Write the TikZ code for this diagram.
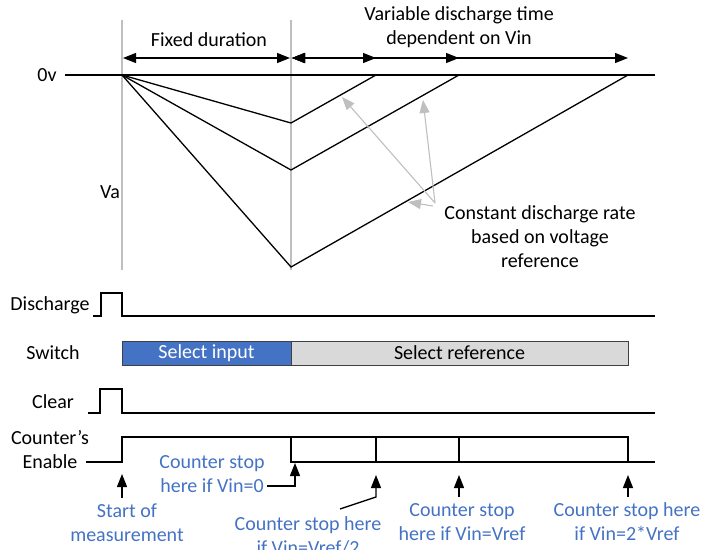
\documentclass[tikz,border=0pt]{standalone}
\usepackage{fontspec}
\setmainfont{Carlito}
\usetikzlibrary{arrows.meta}

\definecolor{offblue}{HTML}{4472C4}
\definecolor{lightgrey}{HTML}{D9D9D9}
\definecolor{guidegrey}{HTML}{BFBFBF}

\tikzset{
  sig/.style={line width=1.3pt,black},
  guide/.style={line width=1.1pt,guidegrey},
  span/.style={line width=1.3pt,{Triangle[length=13pt,width=10pt]}-{Triangle[length=13pt,width=10pt]}},
  uparrow/.style={line width=1.3pt,-{Triangle[length=13pt,width=10pt]}},
  hint/.style={guide,-{Triangle[length=13pt,width=10pt]}},
  txt/.style={font=\fontsize{20}{24}\selectfont,align=center,inner sep=0pt},
  note/.style={txt,text=offblue},
  phase/.style={txt,draw=black!75,line width=0.8pt,minimum height=24pt}
}

\begin{document}
\begin{tikzpicture}[x=1pt,y=-1pt]
\useasboundingbox (0,0) rectangle (704,549);
\clip (0,0) rectangle (704,549);

% voltage plot
\draw[guide] (122,20) -- (122,270);
\draw[guide] (291,20) -- (291,270);
\draw[sig] (65,75) -- (655,75);

\coordinate (start) at (122,75);
\coordinate (low1) at (291,123);
\coordinate (low2) at (291,170);
\coordinate (low3) at (291,267);
\coordinate (end1) at (376,75);
\coordinate (end2) at (459,75);
\coordinate (end3) at (628,75);

\draw[sig] (start) -- (low1) -- (end1);
\draw[sig] (start) -- (low2) -- (end2);
\draw[sig] (start) -- (low3) -- (end3);

\node[txt] (zero) at (47,75) {0v};
\node[txt] (va) at (110,192) {Va};

% durations
\node[txt] (fixed) at (209,40) {Fixed duration};
\node[txt] (variable) at (459,27.5) {Variable discharge time\\dependent on Vin};
\draw[span] (123,58) -- (290,58);
\draw[span] (292,58) -- (628,58);
\draw[span] (292,58) -- (459,58);
\draw[span] (292,58) -- (376,58);

% discharge rate
\node[txt] (rate) at (540,237) {Constant discharge rate\\based on voltage\\reference};
\coordinate (ratetail) at (435,203);
\coordinate (ratetail3) at (433,206);
\draw[hint] (ratetail) -- (342,97);
\draw[hint] (ratetail) -- (423,100);
\draw[hint] (ratetail3) -- (408,202);

% timing signals
\node[txt] (dis) at (50,305) {Discharge};
\draw[sig] (93,316) -- (101,316) -- (101,293) -- (122,293) -- (122,316) -- (655,316);

\node[txt] (sw) at (53,353) {Switch};
\node[phase,fill=offblue,text=white,minimum width=169pt] (selin) at (206.5,353) {Select input};
\node[phase,fill=lightgrey,minimum width=337pt] (selref) at (459.5,353) {Select reference};

\node[txt] (clr) at (53,402) {Clear};
\draw[sig] (88,413) -- (100,413) -- (100,389) -- (122,389) -- (122,413) -- (655,413);

\node[txt] (cnt) at (50,449.5) {Counter’s\\Enable};
\draw[sig] (86,462) -- (122,462) -- (122,437) -- (628,437) -- (628,462);
\draw[sig] (291,437) -- (291,462) -- (655,462);
\draw[sig] (376,437) -- (376,462);
\draw[sig] (459,437) -- (459,462);

% counter stops
\node[note] (startnote) at (127,523) {Start of\\measurement};
\node[note] (stop0) at (212,474) {Counter stop\\here if Vin=0};
\node[note] (stophalf) at (308,536) {Counter stop here\\if Vin=Vref/2};
\node[note] (stopref) at (462,522) {Counter stop\\here if Vin=Vref};
\node[note] (stopdbl) at (627,522) {Counter stop here\\if Vin=2*Vref};

\coordinate (tail0) at (267,486);
\coordinate (tip0) at (295,463);
\coordinate (tailhalf) at (340,509);

\draw[uparrow] (122,498) -- (122,474);
\draw[uparrow] (tail0) -| (tip0);
\draw[uparrow] (tailhalf) -- (376,497) -- (376,475);
\draw[uparrow] (459,497) -- (459,475);
\draw[uparrow] (628,497) -- (628,475);
\end{tikzpicture}
\end{document}
